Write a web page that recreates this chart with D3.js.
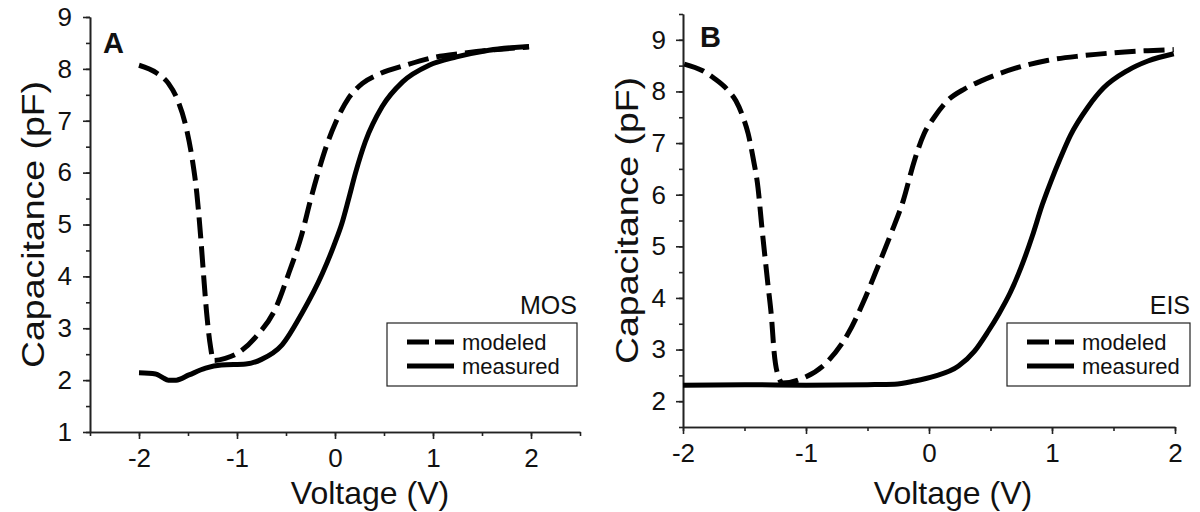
<!DOCTYPE html>
<html lang="en">
<head>
    <meta charset="UTF-8">
    <title>C-V curves</title>
    <script type="text/javascript" src="https://cdn.jsdelivr.net/npm/d3@7/dist/d3.min.js"></script>
    <style>
        body { margin: 0; background: #fff; }
        text { font-family: "Liberation Sans", Arial, sans-serif; fill: #111; }
        .axis path, .axis line { fill: none; stroke: #222; stroke-width: 1.6; }
        .axis text { font-size: 26px; font-family: "Liberation Sans", Arial, sans-serif; fill: #111; }
    </style>
</head>
<body>
<script type="text/javascript">
    let width = 1200;
    let height = 512;

    // panel A (MOS): [voltage, capacitance]
    let modeledA = [
        [-2.0, 8.07], [-1.82, 7.92], [-1.7, 7.72], [-1.62, 7.46], [-1.52, 6.88], [-1.46, 6.3],
        [-1.41, 5.6], [-1.37, 4.75], [-1.34, 4.0], [-1.31, 3.3], [-1.27, 2.64], [-1.24, 2.38],
        [-1.12, 2.42], [-1.01, 2.5], [-0.81, 2.83], [-0.6, 3.41], [-0.47, 4.07], [-0.34, 4.8],
        [-0.25, 5.47], [-0.18, 5.95], [-0.09, 6.5], [0.01, 6.98], [0.14, 7.44], [0.28, 7.72],
        [0.45, 7.9], [0.72, 8.07], [1.03, 8.23], [1.3, 8.3], [1.57, 8.36], [1.98, 8.42]
    ];
    let measuredA = [
        [-2.0, 2.14], [-1.83, 2.12], [-1.76, 2.05], [-1.7, 2.0], [-1.62, 2.0], [-1.49, 2.1],
        [-1.32, 2.23], [-1.16, 2.29], [-0.91, 2.31], [-0.75, 2.4], [-0.54, 2.68], [-0.34, 3.28],
        [-0.13, 4.05], [0.0, 4.65], [0.07, 5.02], [0.14, 5.5], [0.21, 6.0], [0.31, 6.6],
        [0.48, 7.27], [0.69, 7.75], [0.96, 8.07], [1.24, 8.23], [1.57, 8.36], [1.98, 8.43]
    ];

    // panel B (EIS)
    let modeledB = [
        [-1.99, 8.53], [-1.84, 8.4], [-1.75, 8.26], [-1.63, 8.01], [-1.57, 7.82], [-1.51, 7.49],
        [-1.47, 7.18], [-1.43, 6.71], [-1.39, 6.13], [-1.36, 5.4], [-1.31, 4.27], [-1.28, 3.61],
        [-1.26, 2.97], [-1.22, 2.45], [-1.19, 2.35], [-1.02, 2.45], [-0.82, 2.78], [-0.66, 3.3],
        [-0.53, 3.94], [-0.42, 4.58], [-0.31, 5.24], [-0.21, 5.88], [-0.12, 6.65], [-0.04, 7.18],
        [0.04, 7.49], [0.15, 7.82], [0.29, 8.05], [0.42, 8.2], [0.69, 8.44], [0.96, 8.6],
        [1.24, 8.69], [1.51, 8.75], [1.78, 8.79], [1.99, 8.81]
    ];
    let measuredB = [
        [-2.0, 2.31], [-1.5, 2.32], [-1.0, 2.31], [-0.5, 2.32], [-0.28, 2.33], [-0.12, 2.39],
        [0.04, 2.48], [0.24, 2.68], [0.37, 2.97], [0.48, 3.35], [0.57, 3.7], [0.66, 4.1],
        [0.75, 4.6], [0.84, 5.2], [0.92, 5.8], [0.99, 6.25], [1.07, 6.72], [1.15, 7.15],
        [1.29, 7.69], [1.42, 8.07], [1.61, 8.4], [1.78, 8.59], [1.99, 8.73]
    ];

    let xTicks = [-2, -1, 0, 1, 2];
    let yTicksA = [1, 2, 3, 4, 5, 6, 7, 8, 9];
    let yTicksB = [2, 3, 4, 5, 6, 7, 8, 9];
    let seriesNames = ['modeled', 'measured'];

    let svg = d3.select('body')
        .append('svg')
        .attr('width', width)
        .attr('height', height);

    function halves(lo, hi) {
        let out = [];
        for (let v = lo; v <= hi + 1e-9; v += 0.5) out.push(+v.toFixed(2));
        return out;
    }

    function drawPanel(p) {
        let x = d3.scaleLinear().domain(p.xDomain).range(p.xRange);
        let y = d3.scaleLinear().domain(p.yDomain).range(p.yRange);

        // minor ticks
        svg.append('g').attr('class', 'axis')
            .attr('transform', 'translate(0,' + p.yRange[0] + ')')
            .call(d3.axisBottom(x).tickValues(halves(p.xDomain[0], p.xDomain[1]))
                .tickSize(4).tickSizeOuter(0).tickFormat(''));
        svg.append('g').attr('class', 'axis')
            .attr('transform', 'translate(' + p.xRange[0] + ',0)')
            .call(d3.axisLeft(y).tickValues(halves(p.yDomain[0], p.yDomain[1]))
                .tickSize(4).tickSizeOuter(0).tickFormat(''));

        // major ticks
        svg.append('g').attr('class', 'axis')
            .attr('transform', 'translate(0,' + p.yRange[0] + ')')
            .call(d3.axisBottom(x).tickValues(xTicks).tickSize(7).tickPadding(10)
                .tickSizeOuter(0).tickFormat(d3.format('d')));
        svg.append('g').attr('class', 'axis')
            .attr('transform', 'translate(' + p.xRange[0] + ',0)')
            .call(d3.axisLeft(y).tickValues(p.yTicks).tickSize(7).tickPadding(p.yPad)
                .tickSizeOuter(0).tickFormat(d3.format('d')));

        svg.selectAll('.axis text').text(function () {
            return d3.select(this).text().replace('\u2212', '-');
        });

        // axis titles
        svg.append('text')
            .attr('x', p.xTitleX).attr('y', 504)
            .attr('text-anchor', 'middle')
            .style('font-size', '32px')
            .text('Voltage (V)');
        svg.append('text')
            .attr('transform', 'translate(' + p.yTitleX + ',' + ((p.yRange[0] + p.yRange[1]) / 2) + ') rotate(-90) scale(1.17,1)')
            .attr('text-anchor', 'middle')
            .style('font-size', '32px')
            .text('Capacitance (pF)');

        // panel letter
        svg.append('text')
            .attr('x', p.letterX).attr('y', p.letterY)
            .style('font-size', '29px').style('font-weight', 'bold')
            .text(p.letter);

        let line = d3.line()
            .x(function (d) { return x(d[0]); })
            .y(function (d) { return y(d[1]); })
            .curve(d3.curveMonotoneX);

        svg.append('path').datum(p.measured)
            .attr('d', line)
            .attr('fill', 'none').attr('stroke', '#000')
            .attr('stroke-width', 5).attr('stroke-linejoin', 'round');
        svg.append('path').datum(p.modeled)
            .attr('d', line)
            .attr('fill', 'none').attr('stroke', '#000')
            .attr('stroke-width', 5).attr('stroke-dasharray', '21,8');

        // legend
        let lg = svg.append('g');
        lg.append('text')
            .attr('x', p.box[0] + p.box[2]).attr('y', 314)
            .attr('text-anchor', 'end')
            .style('font-size', '25px')
            .text(p.title);
        lg.append('rect')
            .attr('x', p.box[0]).attr('y', p.box[1])
            .attr('width', p.box[2]).attr('height', p.box[3])
            .attr('fill', '#fff').attr('stroke', '#222').attr('stroke-width', 1.2);
        seriesNames.forEach(function (name, i) {
            let yy = p.box[1] + 19 + i * 24;
            lg.append('line')
                .attr('x1', p.box[0] + 20).attr('x2', p.box[0] + 67)
                .attr('y1', yy).attr('y2', yy)
                .attr('stroke', '#000').attr('stroke-width', 5)
                .attr('stroke-dasharray', i === 0 ? '22,6' : null);
            lg.append('text')
                .attr('x', p.box[0] + 75).attr('y', yy + 8)
                .style('font-size', '22px')
                .text(name);
        });
    }

    drawPanel({
        letter: 'A', letterX: 103, letterY: 53, title: 'MOS',
        xDomain: [-2.5, 2.5], xRange: [90, 580],
        yDomain: [1, 9], yRange: [432, 17], yTicks: yTicksA, yPad: 11,
        xTitleX: 370, yTitleX: 44,
        box: [387, 323, 190, 63],
        modeled: modeledA, measured: measuredA
    });

    drawPanel({
        letter: 'B', letterX: 700, letterY: 47, title: 'EIS',
        xDomain: [-2, 2], xRange: [683, 1175],
        yDomain: [1.5, 9.5], yRange: [427, 14], yTicks: yTicksB, yPad: 10,
        xTitleX: 953, yTitleX: 638,
        box: [1007, 323, 183, 63],
        modeled: modeledB, measured: measuredB
    });
</script>
</body>
</html>
